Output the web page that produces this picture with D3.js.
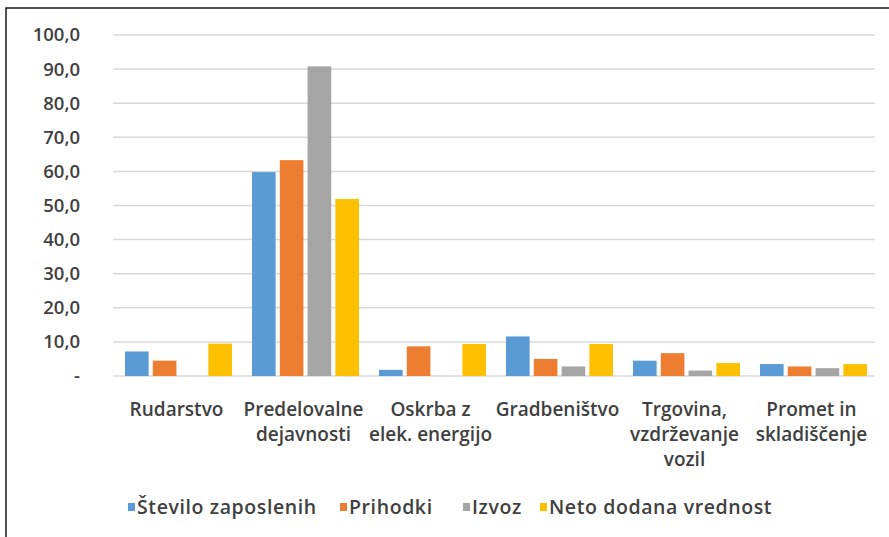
<!DOCTYPE html>
<html>
<head>
<meta charset="utf-8">
<script src="https://cdn.jsdelivr.net/npm/d3@7"></script>
<style>
  body { margin: 0; background: #fff; }
  svg text { font-family: "Open Sans", Lato, sans-serif; font-weight: 600; fill: #404040; }
</style>
</head>
<body>
<svg id="chart"></svg>
<script>
const categories = [
  ["Rudarstvo"],
  ["Predelovalne", "dejavnosti"],
  ["Oskrba z", "elek. energijo"],
  ["Gradbeništvo"],
  ["Trgovina,", "vzdrževanje", "vozil"],
  ["Promet in", "skladiščenje"]
]
const seriesNames = ["Število zaposlenih", "Prihodki", "Izvoz", "Neto dodana vrednost"]
const zaposleni = [7.2, 59.8, 1.8, 11.6, 4.5, 3.5]
const prihodki = [4.5, 63.3, 8.7, 5.0, 6.7, 2.8]
const izvoz = [0, 90.8, 0, 2.8, 1.6, 2.3]
const netoDodana = [9.5, 51.9, 9.4, 9.4, 3.8, 3.5]
const yTicks = [0, 10, 20, 30, 40, 50, 60, 70, 80, 90, 100]

const colors = ["#5B9BD5", "#ED7D31", "#A5A5A5", "#FFC000"]
const series = [zaposleni, prihodki, izvoz, netoDodana]

const width = 889, height = 537
const svg = d3.select("#chart").attr("width", width).attr("height", height)

// frame (top and left edges only visible)
svg.append("path")
  .attr("d", `M6,${height} V8 H${width}`)
  .attr("fill", "none")
  .attr("stroke", "#1a1a1a")
  .attr("stroke-width", 1.5)

const x0 = d3.scaleBand()
  .domain(d3.range(categories.length))
  .range([113, 875])

const x1 = d3.scaleBand()
  .domain(d3.range(series.length))
  .range([12, 119])
  .paddingInner(0.15)

const y = d3.scaleLinear().domain([0, 100]).range([376, 35])

// gridlines
svg.append("g")
  .selectAll("line")
  .data(yTicks)
  .enter().append("line")
  .attr("x1", 113).attr("x2", 875)
  .attr("y1", d => y(d)).attr("y2", d => y(d))
  .attr("stroke", "#d9d9d9")
  .attr("stroke-width", 1.5)

// y labels
svg.append("g")
  .selectAll("text")
  .data(yTicks)
  .enter().append("text")
  .attr("x", 80)
  .attr("y", d => y(d))
  .attr("dy", "0.35em")
  .attr("text-anchor", "end")
  .style("font-size", "18.5px")
  .text(d => d === 0 ? "-" : d.toFixed(1).replace(".", ","))

// bars
const groups = svg.append("g")
  .selectAll("g")
  .data(categories.map((c, i) => i))
  .enter().append("g")
  .attr("transform", i => `translate(${x0(i)},0)`)

groups.selectAll("rect")
  .data(i => series.map((s, k) => ({ k, v: s[i] })))
  .enter().append("rect")
  .attr("x", d => x1(d.k))
  .attr("width", x1.bandwidth())
  .attr("y", d => y(d.v))
  .attr("height", d => y(0) - y(d.v))
  .attr("fill", d => colors[d.k])

// category labels
const catLabels = svg.append("g")
  .selectAll("text")
  .data(categories)
  .enter().append("text")
  .attr("x", (d, i) => x0(i) + x0.bandwidth() / 2)
  .attr("y", 416)
  .attr("text-anchor", "middle")
  .style("font-size", "19px")

catLabels.selectAll("tspan")
  .data(d => d)
  .enter().append("tspan")
  .attr("x", function () { return d3.select(this.parentNode).attr("x") })
  .attr("dy", (d, i) => i === 0 ? 0 : 25)
  .text(d => d)

// legend
const legendX = [128, 340, 463, 540]
const legend = svg.append("g")
  .selectAll("g")
  .data(seriesNames)
  .enter().append("g")
  .attr("transform", (d, i) => `translate(${legendX[i]},507)`)

legend.append("rect")
  .attr("x", 0).attr("y", -4)
  .attr("width", 7).attr("height", 8)
  .attr("fill", (d, i) => colors[i])

legend.append("text")
  .attr("x", 9)
  .attr("dy", "0.35em")
  .style("font-size", "19.5px")
  .style("letter-spacing", "0.6px")
  .text(d => d)
</script>
</body>
</html>
